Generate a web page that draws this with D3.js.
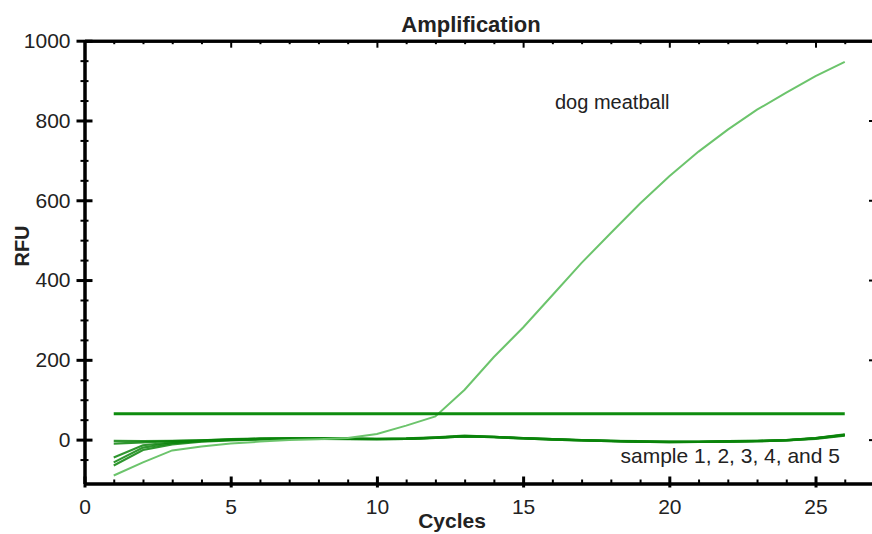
<!DOCTYPE html>
<html>
<head>
<meta charset="utf-8">
<script src="https://cdn.jsdelivr.net/npm/d3@7"></script>
<style>
body { margin: 0; background: #fff; }
svg { display: block; font-family: Arial, "Liberation Sans", sans-serif; }
</style>
</head>
<body>
<svg id="chart" width="872" height="534"></svg>
<script>
// values
const cycles = [1, 2, 3, 4, 5, 6, 7, 8, 9, 10, 11, 12, 13, 14, 15, 16, 17, 18, 19, 20, 21, 22, 23, 24, 25, 26];
const dogMeatball = [-90, -57, -27, -17, -10, -5, -1, 1, 4, 14, 35, 58, 125, 207, 281, 362, 443, 518, 592, 660, 722, 777, 827, 870, 911, 947];
const sample1 = [-3, -4, -3, -2, 0, 2, 3, 3, 3, 2, 2, 4, 8, 6, 3, 1, -1, -3, -4, -5, -5, -4, -3, -2, 2, 10];
const sample2 = [-10, -7, -4, -2, 1, 3, 3, 3, 2, 2, 3, 6, 10, 7, 4, 1, -2, -4, -6, -6, -6, -5, -4, -2, 3, 12];
const sample3 = [-45, -14, -7, -3, 0, 2, 3, 3, 2, 1, 2, 5, 9, 7, 3, 0, -2, -4, -5, -7, -6, -5, -4, -1, 4, 13];
const sample4 = [-57, -20, -9, -4, -1, 1, 2, 2, 2, 1, 2, 4, 8, 6, 3, 0, -2, -3, -5, -6, -6, -5, -4, -2, 3, 11];
const sample5 = [-65, -26, -12, -5, -2, 0, 2, 2, 1, 1, 2, 5, 9, 7, 4, 1, -1, -3, -5, -5, -5, -4, -3, -1, 4, 12];
const threshold = 65;
const xMajor = [0, 5, 10, 15, 20, 25];
const xMinor = [1, 2, 3, 4, 6, 7, 8, 9, 11, 12, 13, 14, 16, 17, 18, 19, 21, 22, 23, 24, 26];
const yMajor = [0, 200, 400, 600, 800, 1000];
const yMinor = [-50, 50, 100, 150, 250, 300, 350, 450, 500, 550, 650, 700, 750, 850, 900, 950];

const svg = d3.select('#chart');
const x = d3.scaleLinear().domain([0, 27]).range([84.5, 874]);
const y = d3.scaleLinear().domain([-110, 1000]).range([483.5, 40.7]);

const axisColor = '#000';
const textColor = '#222';
const fmt = d3.format('d');

function styleAxis(g) {
    g.select('.domain').attr('stroke', axisColor).attr('stroke-width', 3);
    g.selectAll('.tick line').attr('stroke', axisColor).attr('stroke-width', 2);
}

// series lines
const line = d3.line()
    .x((d, i) => x(cycles[i]))
    .y(d => y(d));

const samples = [sample1, sample2, sample3, sample4, sample5];
svg.append('g')
    .selectAll('path')
    .data(samples)
    .join('path')
    .attr('d', line)
    .attr('fill', 'none')
    .attr('stroke', '#0b840b')
    .attr('stroke-opacity', 0.85)
    .attr('stroke-width', 2.2);

svg.append('path')
    .datum(dogMeatball)
    .attr('d', line)
    .attr('fill', 'none')
    .attr('stroke', '#6cc46c')
    .attr('stroke-width', 2);

// threshold
svg.append('line')
    .attr('x1', x(cycles[0]))
    .attr('x2', x(cycles[cycles.length - 1]))
    .attr('y1', y(threshold))
    .attr('y2', y(threshold))
    .attr('stroke', '#0e8c0e')
    .attr('stroke-width', 3);

// bottom axis
const bottomAxis = svg.append('g').attr('transform', `translate(0,${y(-110)})`);
bottomAxis.append('g')
    .call(d3.axisBottom(x).tickValues(xMinor).tickSize(-4).tickSizeOuter(0).tickFormat(''))
    .call(styleAxis);
bottomAxis.append('g')
    .call(d3.axisBottom(x).tickValues(xMajor).tickSize(4).tickSizeOuter(0).tickPadding(12).tickFormat(fmt))
    .call(styleAxis)
    .call(g => g.selectAll('.tick line').attr('y1', -7).attr('stroke-width', 3))
    .call(g => g.selectAll('.tick text')
        .attr('fill', textColor).attr('font-size', 21).attr('font-family', 'Arial, "Liberation Sans", sans-serif'));

// top axis
const topAxis = svg.append('g').attr('transform', `translate(0,${y(1000)})`);
topAxis.append('g')
    .call(d3.axisTop(x).tickValues(xMinor).tickSize(-3.5).tickSizeOuter(0).tickFormat(''))
    .call(styleAxis);
topAxis.append('g')
    .call(d3.axisTop(x).tickValues(xMajor).tickSize(-7).tickSizeOuter(0).tickFormat(''))
    .call(styleAxis);

// left axis
const leftAxis = svg.append('g').attr('transform', `translate(${x(0)},0)`);
leftAxis.append('g')
    .call(d3.axisLeft(y).tickValues(yMinor).tickSize(4).tickSizeOuter(0).tickFormat(''))
    .call(styleAxis)
    .call(g => g.selectAll('.tick line').attr('x1', 4));
leftAxis.append('g')
    .call(d3.axisLeft(y).tickValues(yMajor).tickSize(8).tickSizeOuter(0).tickPadding(6).tickFormat(fmt))
    .call(styleAxis)
    .call(g => g.selectAll('.tick line').attr('x1', 8).attr('stroke-width', 3))
    .call(g => g.selectAll('.tick text')
        .attr('fill', textColor).attr('font-size', 21).attr('font-family', 'Arial, "Liberation Sans", sans-serif'));

// right axis (mostly clipped by the frame)
svg.append('g')
    .attr('transform', `translate(${x(27)},0)`)
    .call(d3.axisRight(y).tickValues(yMajor).tickSize(-5).tickSizeOuter(0).tickFormat(''))
    .call(styleAxis);

// titles
svg.append('text')
    .attr('x', 471).attr('y', 32)
    .attr('text-anchor', 'middle')
    .attr('font-size', 22).attr('font-weight', 'bold')
    .attr('fill', textColor)
    .text('Amplification');

svg.append('text')
    .attr('x', 452).attr('y', 528)
    .attr('text-anchor', 'middle')
    .attr('font-size', 21).attr('font-weight', 'bold')
    .attr('fill', textColor)
    .text('Cycles');

svg.append('text')
    .attr('transform', 'translate(29,246) rotate(-90)')
    .attr('text-anchor', 'middle')
    .attr('font-size', 20).attr('font-weight', 'bold')
    .attr('fill', textColor)
    .text('RFU');

// annotations
svg.append('text')
    .attr('x', 555).attr('y', 109)
    .attr('font-size', 20)
    .attr('fill', textColor)
    .text('dog meatball');

svg.append('text')
    .attr('x', 840).attr('y', 463)
    .attr('text-anchor', 'end')
    .attr('font-size', 21)
    .attr('fill', textColor)
    .text('sample 1, 2, 3, 4, and 5');
</script>
</body>
</html>
